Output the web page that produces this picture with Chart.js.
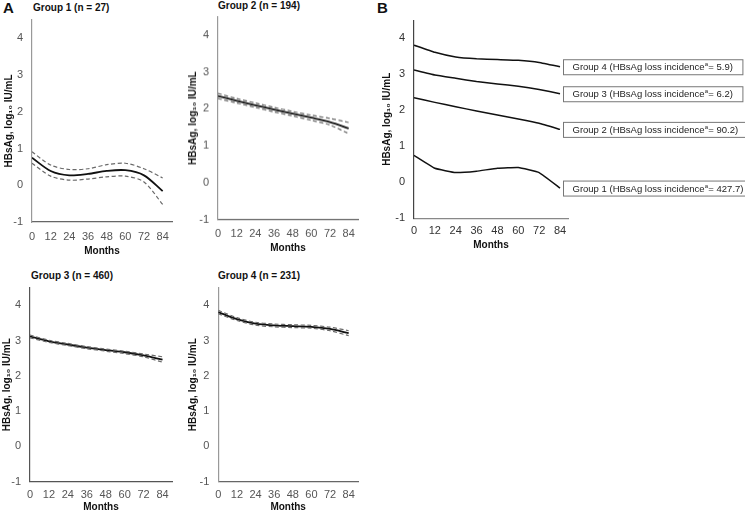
<!DOCTYPE html>
<html>
<head>
<meta charset="utf-8">
<script src="https://cdn.jsdelivr.net/npm/chart.js@4.4.1/dist/chart.umd.min.js"></script>
<style>
  body{margin:0;background:#fff;width:745px;height:513px;position:relative;overflow:hidden;font-family:"Liberation Sans",Arial,sans-serif;}
  .wrap{position:absolute;}
  .ttl{position:absolute;font-weight:bold;font-size:10px;line-height:12px;color:#111;white-space:nowrap;}
  .lt{position:absolute;font-weight:bold;font-size:15px;line-height:16px;color:#111;}
</style>
</head>
<body>
<div class="lt" style="left:3px;top:0px;">A</div>
<div class="lt" style="left:377px;top:0px;">B</div>
<div class="ttl" style="left:33px;top:2px;">Group 1 (n = 27)</div>
<div class="ttl" style="left:218px;top:0px;">Group 2 (n = 194)</div>
<div class="ttl" style="left:31px;top:270px;">Group 3 (n = 460)</div>
<div class="ttl" style="left:218px;top:270px;">Group 4 (n = 231)</div>

<div class="wrap" id="w1"><canvas id="c1"></canvas></div>
<div class="wrap" id="w2"><canvas id="c2"></canvas></div>
<div class="wrap" id="w3"><canvas id="c3"></canvas></div>
<div class="wrap" id="w4"><canvas id="c4"></canvas></div>
<div class="wrap" id="wB"><canvas id="cB"></canvas></div>

<script>
// ---------- data ----------
const months = [0, 12, 24, 36, 48, 60, 72, 84];
const yTicks = [-1, 0, 1, 2, 3, 4];

const g1Mean  = [0.75, 0.39, 0.27, 0.31, 0.39, 0.41, 0.27, -0.16];
const g1Upper = [0.91, 0.55, 0.43, 0.45, 0.56, 0.60, 0.45, 0.20];
const g1Lower = [0.60, 0.25, 0.14, 0.17, 0.23, 0.25, 0.09, -0.52];

const g2Mean  = [2.35, 2.22, 2.10, 1.98, 1.87, 1.76, 1.64, 1.47];
const g2Upper = [2.42, 2.28, 2.16, 2.04, 1.93, 1.83, 1.74, 1.63];
const g2Lower = [2.28, 2.16, 2.04, 1.92, 1.81, 1.69, 1.56, 1.33];

const g3Mean  = [3.12, 2.98, 2.89, 2.80, 2.73, 2.67, 2.58, 2.46];
const g3Upper = [3.16, 3.01, 2.92, 2.83, 2.76, 2.70, 2.62, 2.54];
const g3Lower = [3.08, 2.95, 2.86, 2.77, 2.70, 2.63, 2.54, 2.39];

const g4Mean  = [3.81, 3.61, 3.48, 3.43, 3.41, 3.39, 3.33, 3.21];
const g4Upper = [3.86, 3.65, 3.52, 3.47, 3.45, 3.43, 3.38, 3.28];
const g4Lower = [3.76, 3.57, 3.44, 3.39, 3.37, 3.35, 3.28, 3.14];

const groupNames = ["Group 1", "Group 2", "Group 3", "Group 4"];
const lossIncidence = ["427.7", "90.2", "6.2", "5.9"];

const FONT = '"Liberation Sans", Arial, sans-serif';

function pts(arr){
  return months.map((m, i) => ({x: m, y: arr[i]}));
}

// ---------- helpers ----------
function makePanel(id, p, datasets, plugins){
  const wrap = document.getElementById("w" + id);
  wrap.style.left = p.left + "px";
  wrap.style.top = p.top + "px";
  wrap.style.width = p.width + "px";
  wrap.style.height = p.height + "px";

  return new Chart(document.getElementById("c" + id), {
    type: 'line',
    data: {datasets: datasets},
    plugins: plugins || [],
    options: {
      responsive: true,
      maintainAspectRatio: false,
      animation: false,
      layout: {padding: {top: p.padTop, right: p.padRight, left: 0, bottom: 0}},
      plugins: {legend: {display: false}, tooltip: {enabled: false}},
      elements: {point: {radius: 0}},
      scales: {
        x: {
          type: 'linear', min: 0, max: p.xMax,
          grid: {display: false, drawTicks: false},
          border: {display: true, color: p.xAxisColor, width: 1.2},
          ticks: {padding: p.xPad, color: p.tickColor, font: {family: FONT, size: 11}, maxRotation: 0},
          afterBuildTicks: s => { s.ticks = months.map(v => ({value: v})); },
          afterFit: s => { s.height = p.xHeight; },
          title: {display: true, text: 'Months', color: '#111', padding: {top: 0, bottom: 0},
                  font: {family: FONT, size: 10, weight: 'bold'}}
        },
        y: {
          min: -1, max: 4.5,
          grid: {display: false, drawTicks: false},
          border: {display: true, color: p.yAxisColor, width: 1.2},
          ticks: {padding: 9, color: p.tickColor, font: {family: FONT, size: 11}},
          afterBuildTicks: s => { s.ticks = yTicks.map(v => ({value: v})); },
          afterFit: s => { s.width = p.yWidth; },
          title: {display: true, text: 'HBsAg, log\u2081\u2080 IU/mL', color: '#111', padding: {top: p.titlePad, bottom: 0},
                  font: {family: FONT, size: 10, weight: 'bold'}}
        }
      }
    }
  });
}

function bandSets(mean, upper, lower){
  const dash = {borderColor: '#6a6a6a', borderWidth: 1.2, borderDash: [4, 2.5], tension: 0.3, fill: false};
  return [
    Object.assign({data: pts(upper)}, dash),
    Object.assign({data: pts(lower)}, dash),
    {data: pts(mean), borderColor: '#111', borderWidth: 1.8, tension: 0.3, fill: false}
  ];
}

// ---------- panel A ----------
makePanel(1, {left: 0, top: 0, width: 180, height: 257, padTop: 20, padRight: 8, xMax: 90, xPad: 8,
  yWidth: 32, xHeight: 35, titlePad: 3, xAxisColor: '#666', yAxisColor: '#999', tickColor: '#555'},
  bandSets(g1Mean, g1Upper, g1Lower));

makePanel(2, {left: 186, top: 0, width: 180, height: 253.5, padTop: 16.7, padRight: 8, xMax: 90, xPad: 8,
  yWidth: 32, xHeight: 35, titlePad: 1, xAxisColor: '#666', yAxisColor: '#999', tickColor: '#555'},
  bandSets(g2Mean, g2Upper, g2Lower));

makePanel(3, {left: 0, top: 260, width: 180, height: 253, padTop: 27.7, padRight: 8, xMax: 90, xPad: 7,
  yWidth: 30, xHeight: 31.3, titlePad: 1, xAxisColor: '#555', yAxisColor: '#555', tickColor: '#555'},
  bandSets(g3Mean, g3Upper, g3Lower));

makePanel(4, {left: 186, top: 260, width: 180, height: 253, padTop: 27.7, padRight: 8, xMax: 90, xPad: 7,
  yWidth: 32.3, xHeight: 31.3, titlePad: 1, xAxisColor: '#666', yAxisColor: '#999', tickColor: '#555'},
  bandSets(g4Mean, g4Upper, g4Lower));

// ---------- panel B ----------
const boxPlugin = {
  id: 'boxes',
  afterDatasetsDraw(chart){
    const ctx = chart.ctx;
    const xs = chart.scales.x, ys = chart.scales.y;
    const means = [g1Mean, g2Mean, g3Mean, g4Mean];
    ctx.save();
    means.forEach((arr, i) => {
      const px = xs.getPixelForValue(months[months.length - 1]) + 3;
      const py = ys.getPixelForValue(arr[arr.length - 1]);
      const t1 = groupNames[i] + " (HBsAg loss incidence";
      const t2 = "= " + lossIncidence[i] + ")";
      ctx.font = "9.5px " + FONT;
      const w1 = ctx.measureText(t1).width;
      const w3 = ctx.measureText(t2).width;
      ctx.font = "6px " + FONT;
      const w2 = ctx.measureText("a").width + 0.5;
      const padX = 9.5, h = 15;
      const bw = w1 + w2 + w3 + padX * 2;
      ctx.fillStyle = '#fff';
      ctx.fillRect(px, py - h / 2, bw, h);
      ctx.strokeStyle = '#777';
      ctx.lineWidth = 1;
      ctx.strokeRect(px + 0.5, py - h / 2 + 0.5, bw, h);
      ctx.fillStyle = '#222';
      ctx.textBaseline = 'middle';
      ctx.textAlign = 'left';
      ctx.font = "9.5px " + FONT;
      ctx.fillText(t1, px + padX, py + 1);
      ctx.font = "6px " + FONT;
      ctx.fillText("a", px + padX + w1 + 0.3, py - 2);
      ctx.font = "9.5px " + FONT;
      ctx.fillText(t2, px + padX + w1 + w2, py + 1);
    });
    ctx.restore();
  }
};

const bSets = [g1Mean, g2Mean, g3Mean, g4Mean].map(arr => ({
  data: pts(arr), borderColor: '#111', borderWidth: 1.5, tension: 0.1, fill: false
}));

makePanel('B', {left: 378, top: 0, width: 367, height: 251.3, padTop: 20.3, padRight: 177, xMax: 88.6, xPad: 6,
  yWidth: 36, xHeight: 33, titlePad: 3, xAxisColor: '#888', yAxisColor: '#444', tickColor: '#333'},
  bSets, [boxPlugin]);
</script>
</body>
</html>
